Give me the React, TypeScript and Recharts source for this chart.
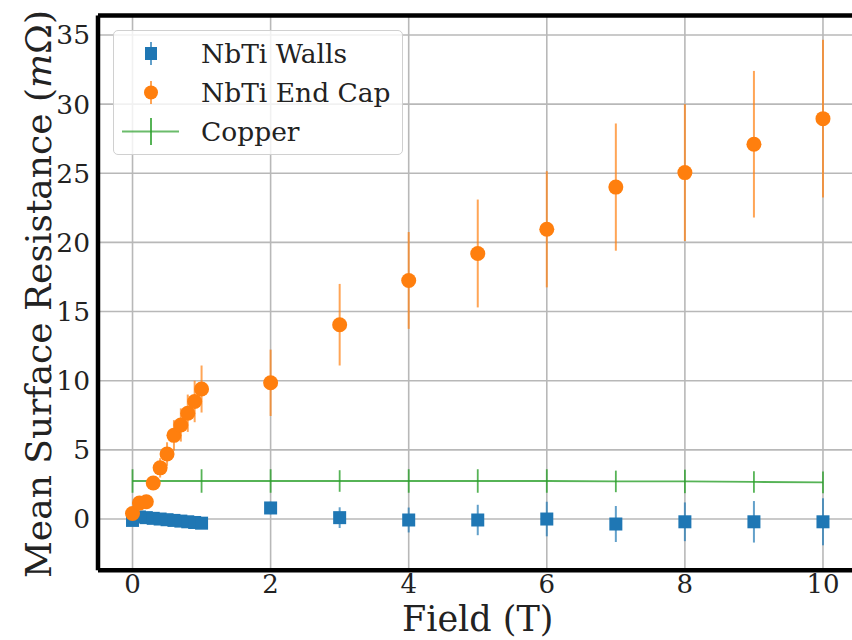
import React from 'react';
import { ScatterChart, Scatter, XAxis, YAxis, CartesianGrid, ErrorBar, Legend } from 'recharts';

// Field values (T)
const fieldT = [0, 0.1, 0.2, 0.3, 0.4, 0.5, 0.6, 0.7, 0.8, 0.9, 1, 2, 3, 4, 5, 6, 7, 8, 9, 10];
// NbTi Walls mean surface resistance (mOhm) and errors
const wallsR = [-0.1, 0.15, 0.1, 0.05, 0.0, -0.05, -0.1, -0.15, -0.2, -0.25, -0.3, 0.8, 0.1, -0.07, -0.07, 0.0, -0.36, -0.2, -0.2, -0.2];
const wallsErr = [0.1, 0.1, 0.1, 0.1, 0.1, 0.1, 0.1, 0.1, 0.1, 0.1, 0.12, 0.45, 0.75, 0.9, 1.1, 1.25, 1.3, 1.4, 1.5, 1.7];
// NbTi End Cap
const endCapR = [0.4, 1.15, 1.25, 2.6, 3.7, 4.7, 6.05, 6.8, 7.65, 8.5, 9.4, 9.85, 14.05, 17.25, 19.2, 20.95, 24.0, 25.05, 27.1, 28.95];
const endCapErr = [0.1, 0.25, 0.25, 0.5, 0.7, 0.85, 1.1, 1.2, 1.35, 1.5, 1.7, 2.4, 2.95, 3.5, 3.9, 4.2, 4.6, 4.95, 5.3, 5.7];
// Copper
const copperField = [0, 1, 2, 3, 4, 5, 6, 7, 8, 9, 10];
const copperR = [2.75, 2.75, 2.75, 2.75, 2.75, 2.75, 2.75, 2.72, 2.72, 2.68, 2.65];
const copperErr = [0.85, 0.85, 0.85, 0.78, 0.85, 0.85, 0.85, 0.78, 0.85, 0.78, 0.78];

const xTicks = [0, 2, 4, 6, 8, 10];
const yTicks = [0, 5, 10, 15, 20, 25, 30, 35];
const seriesNames = ['NbTi Walls', 'NbTi End Cap', 'Copper'];

const BLUE = '#1f77b4';
const ORANGE = '#ff7f0e';
const GREEN = '#2ca02c';
const FONT = '"DejaVu Serif", serif';

const wallsData = fieldT.map((x, i) => ({ x, y: wallsR[i], err: wallsErr[i] }));
const endCapData = fieldT.map((x, i) => ({ x, y: endCapR[i], err: endCapErr[i] }));
const copperData = copperField.map((x, i) => ({ x, y: copperR[i], err: copperErr[i] }));

const SquareShape = (props: any) => {
  const { cx, cy } = props;
  if (cx == null || cy == null) return null;
  return <rect x={cx - 6.5} y={cy - 6.5} width={13} height={13} fill={BLUE} />;
};
const CircleShape = (props: any) => {
  const { cx, cy } = props;
  if (cx == null || cy == null) return null;
  return <circle cx={cx} cy={cy} r={7.5} fill={ORANGE} />;
};
const NoShape = () => <g />;

const LegendBox = () => (
  <div
    style={{
      width: 290,
      height: 125,
      background: 'rgba(255,255,255,0.8)',
      border: '1px solid #d0d0d0',
      borderRadius: 5,
      boxSizing: 'border-box',
      fontFamily: FONT,
      fontSize: 26.5,
      color: '#222',
      position: 'relative',
    }}
  >
    {seriesNames.map((name, i) => (
      <div key={name} style={{ position: 'absolute', left: 0, top: 3 + i * 39, height: 39, display: 'flex', alignItems: 'center' }}>
        <svg width={80} height={39} style={{ display: 'block' }}>
          {i === 0 && (
            <g>
              <line x1={37} x2={37} y1={8} y2={31} stroke={BLUE} strokeOpacity={0.7} strokeWidth={2} />
              <rect x={31} y={13} width={12} height={13} fill={BLUE} />
            </g>
          )}
          {i === 1 && (
            <g>
              <line x1={37} x2={37} y1={8} y2={31} stroke={ORANGE} strokeOpacity={0.7} strokeWidth={2} />
              <circle cx={37} cy={19.5} r={7} fill={ORANGE} />
            </g>
          )}
          {i === 2 && (
            <g>
              <line x1={8} x2={65} y1={19.5} y2={19.5} stroke={GREEN} strokeOpacity={0.7} strokeWidth={2} />
              <line x1={37} x2={37} y1={6} y2={33} stroke={GREEN} strokeOpacity={0.8} strokeWidth={2} />
            </g>
          )}
        </svg>
        <span style={{ marginLeft: 7, whiteSpace: 'nowrap' }}>{name}</span>
      </div>
    ))}
  </div>
);

export default function App() {
  return (
    <div style={{ position: 'absolute', left: 0, top: 0, width: 852, height: 640, overflow: 'hidden', background: '#fff' }}>
      <ScatterChart width={860} height={640} margin={{ top: 14.6, right: 2.5, bottom: 0, left: 0 }}>
        <CartesianGrid stroke="#b8b8b8" strokeWidth={1.6} />
        <XAxis
          xAxisId={0}
          dataKey="x"
          type="number"
          domain={[-0.5, 10.5]}
          ticks={xTicks}
          allowDataOverflow
          height={69.8}
          tickLine={false}
          tickSize={0}
          tickMargin={4}
          axisLine={{ stroke: '#000', strokeWidth: 4.5 }}
          tick={{ fontFamily: FONT, fontSize: 26, fill: '#222' }}
          label={{
            content: () => (
              <text x={477.7} y={630.5} textAnchor="middle" fontFamily={FONT} fontSize={35} fill="#222">
                Field (T)
              </text>
            ),
          }}
        />
        <XAxis xAxisId="top" orientation="top" type="number" domain={[0, 1]} height={1} tick={false} tickLine={false} axisLine={{ stroke: '#000', strokeWidth: 4.5 }} />
        <YAxis
          dataKey="y"
          type="number"
          domain={[-3.7, 36.4]}
          ticks={yTicks}
          allowDataOverflow
          width={98}
          tickLine={false}
          tickSize={0}
          tickMargin={8}
          axisLine={{ stroke: '#000', strokeWidth: 4.5 }}
          tick={{ fontFamily: FONT, fontSize: 26.5, fill: '#222' }}
          label={{
            content: () => (
              <text x={51} y={294} transform="rotate(-90 51 294)" textAnchor="middle" fontFamily={FONT} fontSize={36} fill="#222">
                Mean Surface Resistance (<tspan fontStyle="italic">m</tspan>Ω)
              </text>
            ),
          }}
        />
        <Legend
          layout="vertical"
          align="center"
          verticalAlign="middle"
          wrapperStyle={{ position: 'absolute', left: 113, top: 30, width: 292, height: 127 }}
          content={() => <LegendBox />}
        />
        <Scatter
          name="Copper"
          data={copperData}
          shape={NoShape}
          line={{ stroke: GREEN, strokeWidth: 1.8, strokeOpacity: 0.8 }}
          lineType="joint"
          fill={GREEN}
          isAnimationActive={false}
        >
          <ErrorBar dataKey="err" direction="y" width={0} stroke={GREEN} strokeWidth={1.8} strokeOpacity={0.8} isAnimationActive={false} />
        </Scatter>
        <Scatter name="NbTi Walls" data={wallsData} shape={SquareShape} fill={BLUE} isAnimationActive={false}>
          <ErrorBar dataKey="err" direction="y" width={0} stroke={BLUE} strokeWidth={2} strokeOpacity={0.7} isAnimationActive={false} />
        </Scatter>
        <Scatter name="NbTi End Cap" data={endCapData} shape={CircleShape} fill={ORANGE} isAnimationActive={false}>
          <ErrorBar dataKey="err" direction="y" width={0} stroke={ORANGE} strokeWidth={2} strokeOpacity={0.7} isAnimationActive={false} />
        </Scatter>
      </ScatterChart>
    </div>
  );
}
